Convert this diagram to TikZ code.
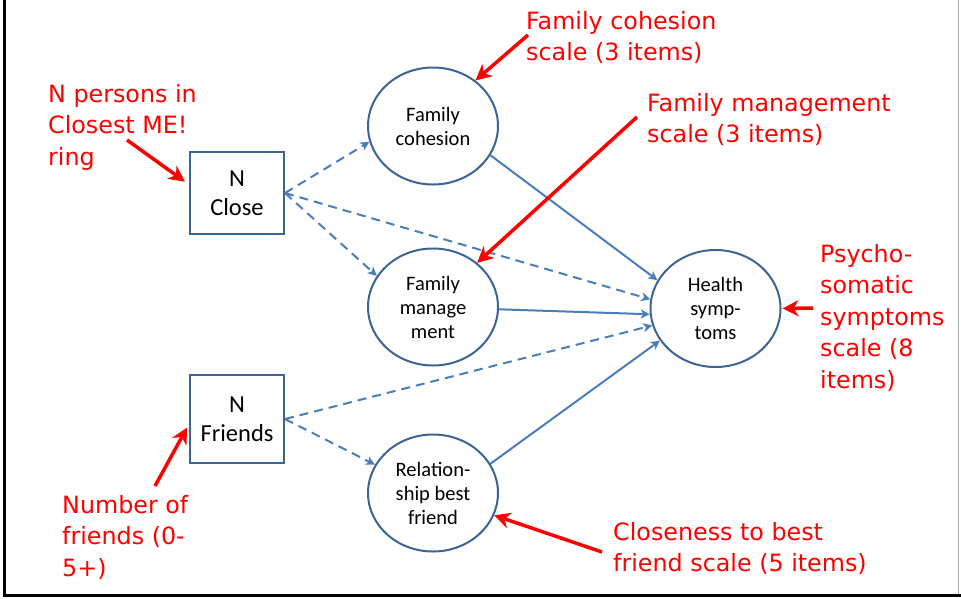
\documentclass[tikz,border=0pt]{standalone}
\usepackage{fontspec}
\setmainfont{Carlito}
\newfontfamily\redfont{DejaVu Sans}
\usetikzlibrary{shapes.geometric,arrows.meta}
\definecolor{boxblue}{HTML}{3C6496}
\definecolor{lineblue}{HTML}{4A7EBB}
\definecolor{callred}{HTML}{FF0000}
\tikzset{
  stbox/.style={draw=boxblue, line width=2pt, minimum width=94pt, minimum height=82pt, inner sep=0pt,
    align=center, font=\fontsize{24.5}{29.5}\selectfont},
  oval/.style={ellipse, draw=boxblue, line width=2pt, minimum width=130pt, minimum height=117pt, inner sep=0pt,
    align=center, font=\fontsize{20.5}{24}\selectfont},
  link/.style={draw=lineblue, line width=2pt, -{Stealth[length=9pt,width=9pt,inset=2.5pt]}},
  dlink/.style={link, dash pattern=on 9pt off 6pt},
  note/.style={text=callred, font=\redfont\fontsize{23.8}{31.5}\selectfont, align=left, inner sep=0pt, anchor=north west},
  callout/.style={draw=callred, line width=3.5pt, -{Stealth[length=16pt,width=16pt,inset=5pt]}}
}
\begin{document}
\begin{tikzpicture}[x=1pt,y=-1pt]
\useasboundingbox (0,0) rectangle (961,598);
% frame
\draw[line width=3pt] (4.5,0) -- (4.5,595.5) -- (961,595.5);
\draw[gray!70, line width=1.2pt] (958.5,0) -- (958.5,594);

% nodes
\node[stbox] (nclose) at (237,193) {\raisebox{-2pt}{N}\\\raisebox{-2pt}{Close}};
\node[stbox, minimum height=88pt] (nfriends) at (237,419) {N\\Friends};
\node[oval] (fc) at (433,126) {Family\\cohesion};
\node[oval] (fm) at (433,307) {Family\\manage\\ment};
\node[oval] (rb) at (433,493) {Relation-\\ship best\\friend};
\node[oval] (hs) at (715.5,308.5) {Health\\symp-\\toms};

% blue connectors
\draw[dlink] (nclose.east) -- (fc.194);
\draw[dlink] (nclose.east) -- (hs.172);
\draw[dlink] (nclose.east) -- (fm.151);
\draw[link] (fc.333) -- (hs.154);
\draw[link] (fm.358) -- (hs.185);
\draw[dlink] (nfriends.east) -- (hs.195.5);
\draw[dlink] (nfriends.east) -- (rb.154);
\draw[link] (rb.27) -- (hs.210.5);

% red notes
\node[note] (t1) at (526,11) {Family cohesion\\scale (3 items)};
\node[note] (t2) at (647,93) {Family management\\scale (3 items)};
\node[note] (t3) at (48,84) {N persons in\\Closest ME!\\ring};
\node[note] (t4) at (820,244) {Psycho-\\somatic\\symptoms\\scale (8\\items)};
\node[note] (t5) at (62,495) {Number of\\friends (0-\\5+)};
\node[note] (t6) at (613,522) {Closeness to best\\friend scale (5 items)};

% red callouts
\coordinate (c1) at (528,35);
\coordinate (c2) at (637,117);
\coordinate (c3) at (127,140);
\coordinate (c4) at (813,308);
\coordinate (c5) at (155,486);
\coordinate (c6) at (602,552);
\draw[callout] (c1) -- (fc.47);
\draw[callout] (c2) -- (fm.45);
\draw[callout, shorten >=5pt] (c3) -- (nclose.170);
\draw[callout, shorten >=1pt] (c4) -- (hs.east);
\draw[callout, shorten >=4pt] (c5) -- (nfriends.186);
\draw[callout] (c6) -- (rb.340);
\end{tikzpicture}
\end{document}
